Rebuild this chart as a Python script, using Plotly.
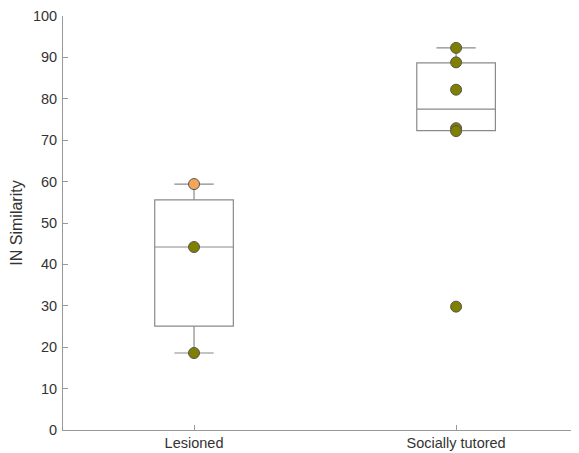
import plotly.graph_objects as go

categories = ["Lesioned", "Socially tutored"]
q1 = [25.1, 72.3]
median = [44.2, 77.5]
q3 = [55.6, 88.7]
lowerfence = [18.6, 72.3]
upperfence = [59.4, 92.3]

lesioned_values = [59.4, 44.2, 18.6]
lesioned_colors = ["#F5A55A", "#808000", "#808000"]
tutored_values = [92.3, 88.8, 82.2, 72.9, 72.2, 29.8]
tutored_colors = ["#808000"] * 6

y_ticks = [0, 10, 20, 30, 40, 50, 60, 70, 80, 90, 100]

pos = [1, 2]
fig = go.Figure()
for i, c in enumerate(categories):
    fig.add_trace(go.Box(
        x=[pos[i]], q1=[q1[i]], median=[median[i]], q3=[q3[i]],
        lowerfence=[lowerfence[i]], upperfence=[upperfence[i]],
        width=0.3, whiskerwidth=0.5,
        fillcolor="rgba(255,255,255,0)",
        line=dict(color="#8a8a8a", width=1.2),
        boxpoints=False, showlegend=False, hoverinfo="skip",
    ))

groups = [(lesioned_values, lesioned_colors), (tutored_values, tutored_colors)]
for i, (vals, cols) in enumerate(groups):
    fig.add_trace(go.Scatter(
        x=[pos[i]] * len(vals), y=vals, mode="markers",
        marker=dict(size=11, color=cols, line=dict(color="#555555", width=1)),
        showlegend=False,
    ))

# page body has an 8px margin, so the figure is drawn from (8, 8)
fig.update_layout(
    width=571, height=445,
    margin=dict(l=55, r=0, t=8, b=23),
    plot_bgcolor="white", paper_bgcolor="white",
    font=dict(family="Liberation Sans, Arial, sans-serif", size=14, color="#333333"),
    showlegend=False,
)
fig.update_xaxes(
    range=[0.5, 2.469], tickvals=pos, ticktext=categories,
    showline=True, linecolor="#999999", linewidth=1,
    ticks="inside", ticklen=5, tickcolor="#999999",
    showgrid=False, zeroline=False, automargin=False,
    tickfont=dict(size=14.5),
)
fig.update_yaxes(
    range=[0, 100], tickvals=y_ticks,
    showline=True, linecolor="#999999", linewidth=1,
    ticks="inside", ticklen=5, tickcolor="#999999",
    showgrid=False, zeroline=False, automargin=False,
    tickfont=dict(size=14.5), ticklabelstandoff=2,
    title=dict(text="IN Similarity", font=dict(size=16), standoff=10),
)
fig.write_html("out.html")
